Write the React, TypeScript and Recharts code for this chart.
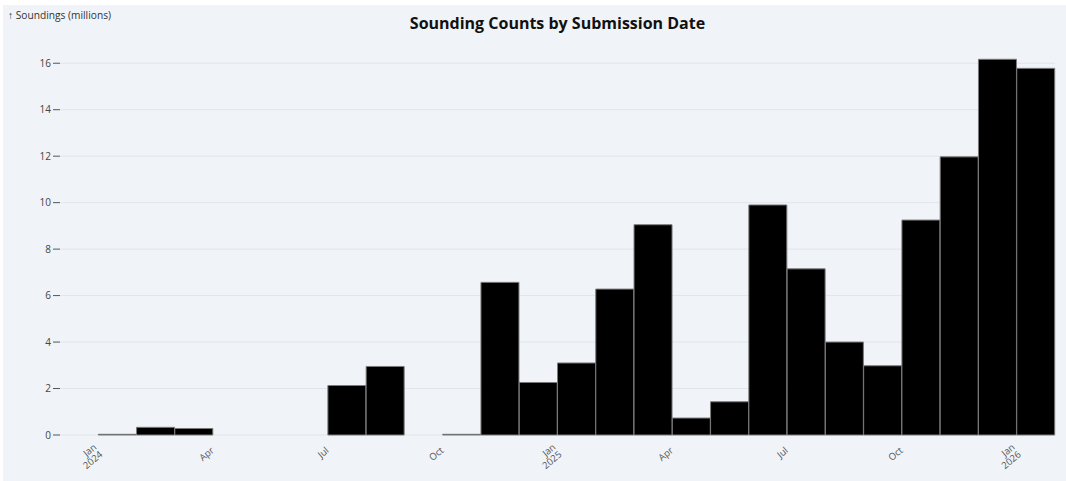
import React from 'react';
import { BarChart, Bar, XAxis, YAxis, CartesianGrid } from 'recharts';

const months = [
  '2023-12',
  '2024-01', '2024-02', '2024-03', '2024-04', '2024-05', '2024-06',
  '2024-07', '2024-08', '2024-09', '2024-10', '2024-11', '2024-12',
  '2025-01', '2025-02', '2025-03', '2025-04', '2025-05', '2025-06',
  '2025-07', '2025-08', '2025-09', '2025-10', '2025-11', '2025-12',
  '2026-01',
];

const soundings = [
  0,
  0.03, 0.33, 0.28, 0, 0, 0,
  2.13, 2.95, 0, 0.03, 6.57, 2.26,
  3.1, 6.28, 9.05, 0.73, 1.43, 9.9,
  7.15, 4.0, 2.98, 9.25, 11.97, 16.17,
  15.78,
];

const tickLabels: Record<string, string[]> = {
  '2024-01': ['Jan', '2024'],
  '2024-04': ['Apr'],
  '2024-07': ['Jul'],
  '2024-10': ['Oct'],
  '2025-01': ['Jan', '2025'],
  '2025-04': ['Apr'],
  '2025-07': ['Jul'],
  '2025-10': ['Oct'],
  '2026-01': ['Jan', '2026'],
};

const yTicks = [0, 2, 4, 6, 8, 10, 12, 14, 16];

const data = months.map((m, i) => ({ month: m, value: soundings[i] }));

const FONT = '"Open Sans", "Noto Sans", sans-serif';

const XTick = (props: any) => {
  const { x, y, payload } = props;
  const lines = tickLabels[payload.value];
  if (!lines) return null;
  const off = payload.offset ?? 0;
  const tx = x - off;
  return (
    <g transform={`translate(${tx - 3},${y + 3})`}>
      <text
        transform="rotate(-40)"
        textAnchor="end"
        fontSize={9.5}
        fill="#555"
        fontFamily={FONT}
      >
        {lines.map((l, i) => (
          <tspan key={i} x={0} dy={i === 0 ? (lines.length > 1 ? '0.3em' : '0.75em') : '1.0em'}>
            {l}
          </tspan>
        ))}
      </text>
    </g>
  );
};

export default function App() {
  return (
    <div style={{ position: 'fixed', left: 0, top: 0, width: 1066, height: 481, background: '#ffffff', overflow: 'hidden' }}>
      <div style={{ position: 'absolute', left: 3, top: 5, width: 1063, height: 476, background: '#f0f3f8' }} />
      <div
        style={{
          position: 'absolute', left: 8, top: 9, fontFamily: FONT, fontSize: 10.2,
          color: '#333', whiteSpace: 'nowrap', lineHeight: '12px',
        }}
      >
        ↑ Soundings (millions)
      </div>
      <div
        style={{
          position: 'absolute', left: 0, width: 1115, top: 12, textAlign: 'center',
          fontFamily: FONT, fontSize: 16, fontWeight: 700, color: '#111', lineHeight: '22px',
        }}
      >
        Sounding Counts by Submission Date
      </div>
      <div style={{ position: 'absolute', left: 0, top: 0 }}>
        <BarChart
          width={1066}
          height={481}
          data={data}
          margin={{ top: 40, right: 11, left: 0, bottom: 0 }}
          barCategoryGap={0}
          barGap={0}
          style={{ fontFamily: FONT }}
        >
          <CartesianGrid vertical={false} horizontalValues={yTicks} stroke="#e1e5eb" strokeWidth={1} />
          <XAxis
            dataKey="month"
            interval={0}
            height={46}
            axisLine={false}
            tickLine={false}
            tick={<XTick />}
          />
          <YAxis
            width={60}
            domain={[0, 17]}
            ticks={yTicks}
            axisLine={false}
            tickLine={{ stroke: '#555' }}
            tickSize={7}
            tickMargin={2}
            tick={{ fontSize: 10, fill: '#444', fontFamily: FONT }}
          />
          <Bar dataKey="value" fill="#000000" stroke="#7a7a7a" strokeWidth={1} isAnimationActive={false} />
        </BarChart>
      </div>
    </div>
  );
}
